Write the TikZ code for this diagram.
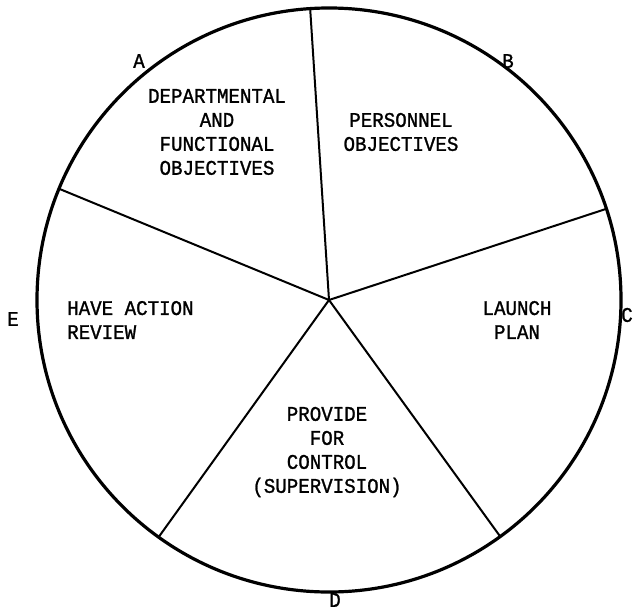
\documentclass[tikz,border=0pt]{standalone}
\usepackage{fontspec}
\setmonofont[FakeBold=1.2,FakeStretch=0.92]{Liberation Mono}
\begin{document}
\begin{tikzpicture}[x=0.75pt,y=-0.75pt,
  lbl/.style={font=\ttfamily\fontsize{15.6}{18}\selectfont, inner sep=0pt, align=center},
  spoke/.style={line width=1.5pt},
  rim/.style={line width=2.4pt}]
\useasboundingbox (0,0) rectangle (634,610);
\coordinate (O) at (329,300);
\draw[rim] (O) circle[radius=292];
\path (O) ++(-93.7:292) coordinate (s1);
\path (O) ++(-18.2:292) coordinate (s2);
\path (O) ++(54.1:292) coordinate (s3);
\path (O) ++(125.7:292) coordinate (s4);
\path (O) ++(202.4:292) coordinate (s5);
\foreach \s in {s1,s2,s3,s4,s5} \draw[spoke] (O) -- (\s);
% segment texts
\node[lbl] (t1) at (217,132) {DEPARTMENTAL\\AND\\FUNCTIONAL\\OBJECTIVES};
\node[lbl] (t2) at (401,132) {PERSONNEL\\OBJECTIVES};
\node[lbl] (t3) at (517,320) {LAUNCH\\PLAN};
\node[lbl] (t4) at (327,452) {PROVIDE\\FOR\\CONTROL\\(SUPERVISION)};
\node[lbl, align=left, anchor=west] (t5) at (67,320) {HAVE ACTION\\REVIEW};
% rim letters
\node[lbl] (A) at (139,61) {A};
\node[lbl] (B) at (508,61) {B};
\node[lbl] (C) at (627,315) {C};
\node[lbl] (D) at (335,600) {D};
\node[lbl] (E) at (13,319) {E};
\end{tikzpicture}
\end{document}
